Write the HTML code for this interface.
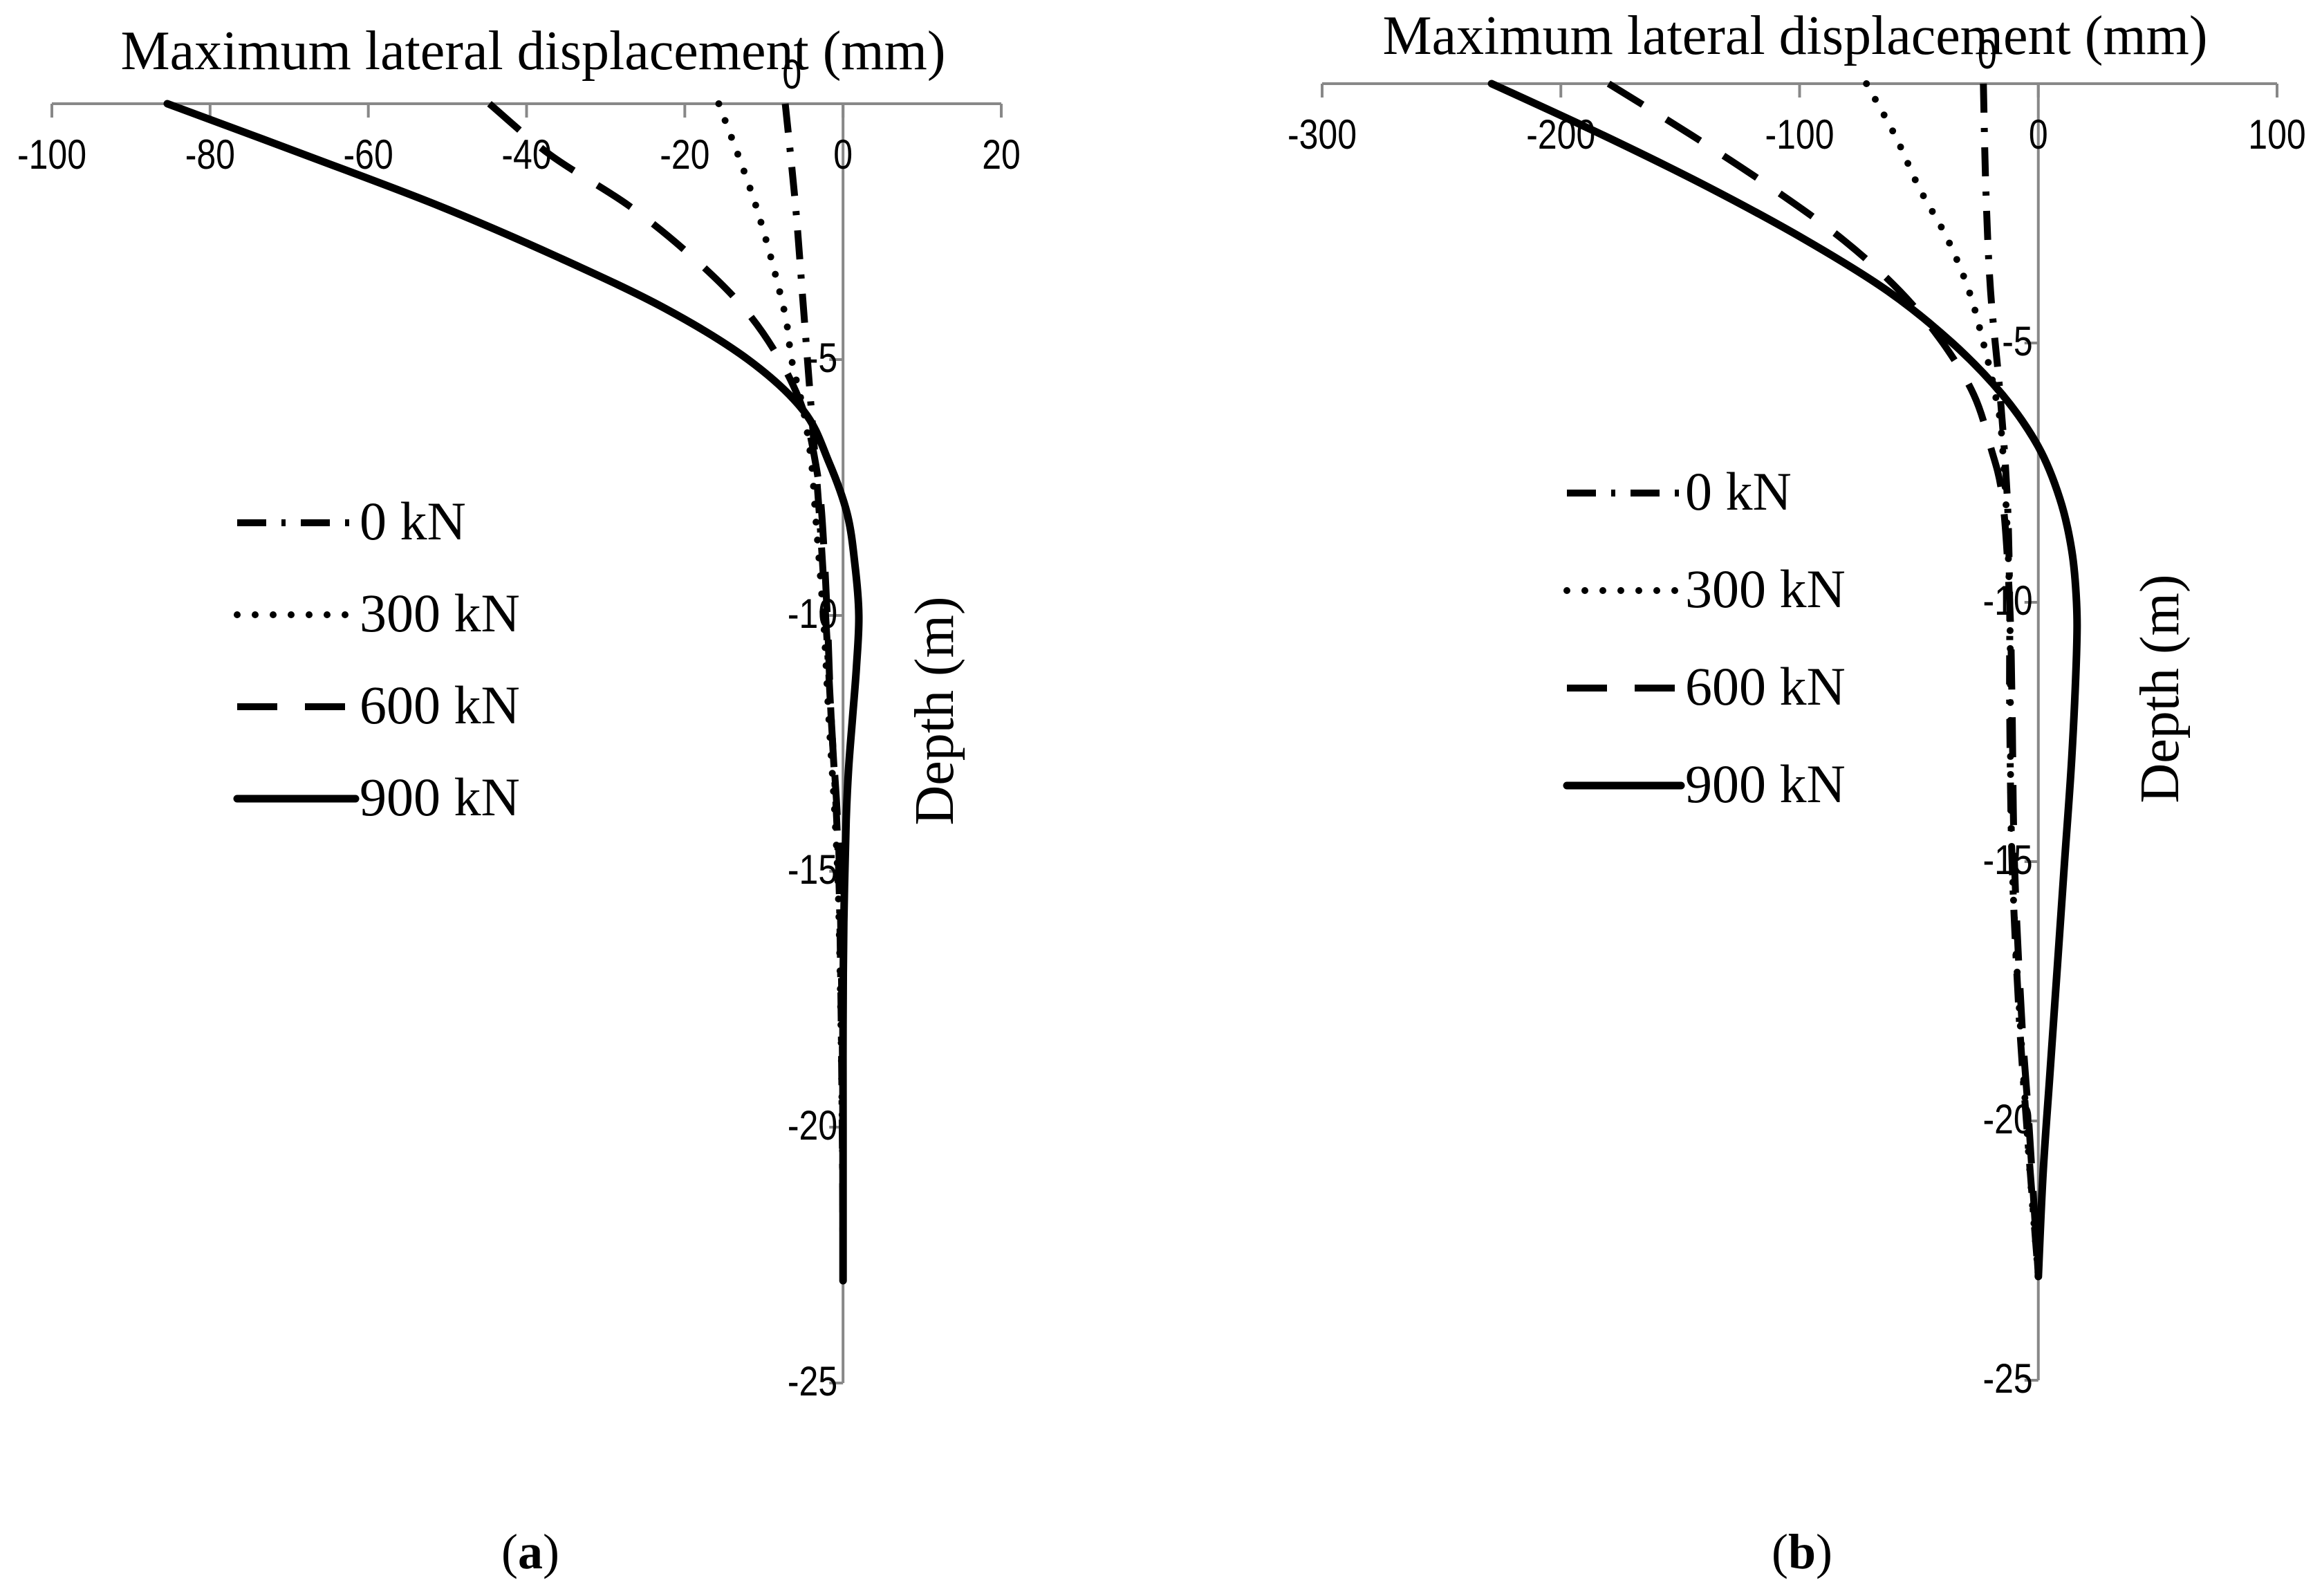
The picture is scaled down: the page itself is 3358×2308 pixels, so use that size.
<!DOCTYPE html>
<html><head><meta charset="utf-8"><style>
html,body{margin:0;padding:0;background:#fff}
svg{display:block}
.tk{font-family:"Liberation Sans",sans-serif;font-size:50px;fill:#000}
.ti{font-family:"Liberation Serif",serif;font-size:80px;fill:#000}
.lg{font-family:"Liberation Serif",serif;font-size:78px;fill:#000}
.cp{font-family:"Liberation Serif",serif;font-size:72px;fill:#000}
</style></head><body>
<svg id="fig" width="3358" height="2308" viewBox="0 0 3358 2308" xmlns="http://www.w3.org/2000/svg"></svg>
<script>
// Chart (a) data
const depthA900=[0,-1,-2,-3,-4,-5,-6,-7,-8,-9,-10,-11,-12,-13,-14,-16,-18,-20,-23];
const dispA900=[-85.4,-68,-51,-36,-22.5,-12,-5,-1.8,0.5,1.5,2,1.7,1.2,0.7,0.4,0.1,0,0,0];
const depthA600=[0,-1,-2,-3,-4,-5,-6,-7,-8,-10,-12,-14,-16,-20,-23];
const dispA600=[-44.7,-37,-27,-19,-12.5,-8,-5,-3.5,-2.7,-2,-1.5,-0.7,-0.3,0,0];
const depthA300=[0,-2,-4,-5,-6,-7,-8,-10,-12,-14,-16,-20,-23];
const dispA300=[-15.7,-11,-7.5,-6.5,-5,-4,-3.5,-2.5,-1.8,-1,-0.5,-0.1,0];
const depthA0=[0,-2,-4,-6,-8,-10,-12,-14,-16,-20,-23];
const dispA0=[-7.3,-6,-5,-4,-3,-2.2,-1.5,-0.8,-0.4,-0.1,0];
const xTicksA=[-100,-80,-60,-40,-20,0,20];
// Chart (b) data
const depthB900=[0,-1,-2,-3,-4,-5,-6,-7,-8,-9,-10,-11,-13,-15,-17,-19,-21,-23];
const dispB900=[-229,-182,-138,-98,-63,-36,-15,0,9,14,16,16,14,11,8,5,2,0];
const depthB600=[0,-1,-2,-3,-4,-5,-6,-7,-8,-10,-12,-15,-18,-20,-23];
const dispB600=[-180,-145,-112,-82,-58,-40,-27,-20,-15,-12,-11,-10,-7,-4,0];
const depthB300=[0,-1,-2,-3,-4,-5,-6,-7,-10,-15,-20,-23];
const dispB300=[-72,-60,-50,-38,-29,-23,-18,-15,-12,-11,-5,0];
const depthB0=[0,-2,-4,-6,-8,-10,-12,-15,-18,-20,-23];
const dispB0=[-23,-22,-20,-16,-13,-12,-12,-11,-8,-5,0];
const xTicksB=[-300,-200,-100,0,100];
const yTicks=[0,-5,-10,-15,-20,-25];
const seriesNames=["0 kN","300 kN","600 kN","900 kN"];

const NS="http://www.w3.org/2000/svg";
const svg=document.getElementById('fig');
function mk(tag,attrs,parent){const e=document.createElementNS(NS,tag);for(const k in attrs)e.setAttribute(k,attrs[k]);(parent||svg).appendChild(e);return e;}
const styles=[
 {dash:"42 22 6 22",cap:"butt",w:10},
 {dash:"0 26",cap:"round",w:10},
 {dash:"58 40",cap:"butt",w:10},
 {dash:"",cap:"round",w:11}
];
function smooth(p){
  let d='M'+p[0][0].toFixed(1)+','+p[0][1].toFixed(1);
  for(let i=0;i<p.length-1;i++){
    const p0=p[Math.max(0,i-1)],p1=p[i],p2=p[i+1],p3=p[Math.min(p.length-1,i+2)];
    const c1=[p1[0]+(p2[0]-p0[0])/6,p1[1]+(p2[1]-p0[1])/6];
    const c2=[p2[0]-(p3[0]-p1[0])/6,p2[1]-(p3[1]-p1[1])/6];
    d+=' C'+c1[0].toFixed(1)+','+c1[1].toFixed(1)+' '+c2[0].toFixed(1)+','+c2[1].toFixed(1)+' '+p2[0].toFixed(1)+','+p2[1].toFixed(1);
  }
  return d;
}
function chart(cfg){
  const g=mk('g',{});
  
  
  const X=v=>cfg.x0+(v-cfg.xmin)*(cfg.x1-cfg.x0)/(cfg.xmax-cfg.xmin);
  const Y=d=>cfg.y0+(-d)*cfg.py;
  const ax=mk('line',{x1:X(cfg.xmin),x2:X(cfg.xmax),y1:cfg.y0,y2:cfg.y0,stroke:'#888','stroke-width':4},g);
  
  const ay=mk('line',{x1:X(0),x2:X(0),y1:cfg.y0,y2:Y(-25),stroke:'#888','stroke-width':4},g);
  
  cfg.xt.forEach(v=>{
    mk('line',{x1:X(v),x2:X(v),y1:cfg.y0,y2:cfg.y0+20,stroke:'#888','stroke-width':4},g);
    const t=mk('text',{x:X(v),y:cfg.y0+cfg.lblOff,'text-anchor':'middle',class:'tk',transform:`translate(0,${cfg.y0+cfg.lblOff}) scale(1,1.2) translate(0,${-(cfg.y0+cfg.lblOff)})`},g);t.textContent=v;
    
  });
  yTicks.forEach(v=>{
    if(v!==0)mk('line',{x1:X(0)-20,x2:X(0),y1:Y(v),y2:Y(v),stroke:'#888','stroke-width':4},g);
    const yy=Y(v)+(v===0?-22:18);
    const t=mk('text',{x:X(0)-(v===0?60:8),y:yy,'text-anchor':'end',class:'tk',transform:`translate(0,${yy}) scale(1,1.2) translate(0,${-yy})`},g);t.textContent=v;
    
  });
  const tt=mk('text',{x:cfg.tx,y:cfg.ty,'text-anchor':'middle',class:'ti'},g);tt.textContent='Maximum lateral displacement (mm)';
  
  const yt=mk('text',{x:0,y:0,'text-anchor':'middle',class:'ti',transform:`translate(${cfg.ytx},${cfg.yty}) rotate(-90)`},g);yt.textContent='Depth (m)';
  
  cfg.series.forEach((s,i)=>{
    const pts=s[0].map((d,j)=>[X(s[1][j]),Y(d)]);
    const st=styles[i];
    const p=mk('path',{d:smooth(pts),fill:'none',stroke:'#000','stroke-width':st.w,'stroke-dasharray':st.dash,'stroke-linecap':st.cap,'stroke-linejoin':'round'},g);
    
    
    const ly=cfg.leg[2]+i*cfg.leg[3];
    const l=mk('line',{x1:cfg.leg[0],x2:cfg.leg[1],y1:ly,y2:ly,stroke:'#000','stroke-width':st.w,'stroke-dasharray':st.dash,'stroke-linecap':st.cap},g);
    
    const lt=mk('text',{x:cfg.leg[1]+6,y:ly+24,class:'lg'},g);lt.textContent=seriesNames[i];
    
  });
  const cap=mk('text',{x:cfg.cx,y:2268,'text-anchor':'middle',class:'cp'},g);
  cap.innerHTML='(<tspan font-weight="bold">'+cfg.cap+'</tspan>)';
  
}
chart({name:'chart-a',xmin:-100,xmax:20,x0:75,x1:1448,y0:150,py:74,xt:xTicksA,lblOff:94,
  tx:771,ty:100,ytx:1378,yty:1028,leg:[343,514,756,133],cx:767,cap:'a',
  series:[[depthA0,dispA0],[depthA300,dispA300],[depthA600,dispA600],[depthA900,dispA900]]});
chart({name:'chart-b',xmin:-300,xmax:100,x0:1912,x1:3293,y0:121,py:75,xt:xTicksB,lblOff:94,
  tx:2596,ty:78,ytx:3150,yty:996,leg:[2266,2431,713,141],cx:2606,cap:'b',
  series:[[depthB0,dispB0],[depthB300,dispB300],[depthB600,dispB600],[depthB900,dispB900]]});
</script>
</body></html>
